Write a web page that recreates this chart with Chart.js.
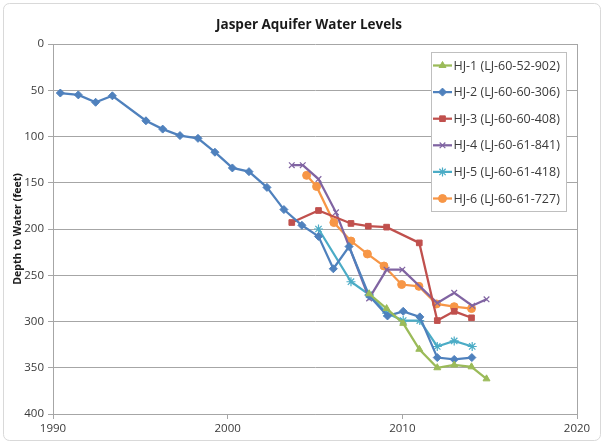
<!DOCTYPE html>
<html>
<head>
<meta charset="utf-8">
<script src="https://cdn.jsdelivr.net/npm/chart.js@4/dist/chart.umd.min.js"></script>
<style>
  html, body { margin: 0; padding: 0; background: #ffffff; }
  #wrap { width: 604px; height: 444px; }
</style>
</head>
<body>
<div id="wrap"><canvas id="c" width="604" height="444"></canvas></div>
<script>
// Jasper Aquifer monitoring wells: measurement date (decimal year) and depth to water (feet)
const chartTitle = 'Jasper Aquifer Water Levels';
const yAxisTitle = 'Depth to Water (feet)';
const xTickValues = [1990, 2000, 2010, 2020];
const yTickValues = [0, 50, 100, 150, 200, 250, 300, 350, 400];

const seriesNames = [
  'HJ-1 (LJ-60-52-902)',
  'HJ-2 (LJ-60-60-306)',
  'HJ-3 (LJ-60-60-408)',
  'HJ-4 (LJ-60-61-841)',
  'HJ-5 (LJ-60-61-418)',
  'HJ-6 (LJ-60-61-727)'
];

const hj1Years = [2008.1, 2009.1, 2010.05, 2010.97, 2012.0, 2012.97, 2013.96, 2014.82];
const hj1Depth = [270, 286, 302, 330, 350, 347, 349, 362];

const hj2Years = [1990.42, 1991.45, 1992.44, 1993.4, 1995.32, 1996.28, 1997.27, 1998.3, 1999.27,
                  2000.27, 2001.22, 2002.25, 2003.22, 2004.25, 2005.2, 2006.05, 2006.95, 2008.1,
                  2009.15, 2010.05, 2011.0, 2012.0, 2012.97, 2013.98];
const hj2Depth = [53, 55, 63, 56, 83, 92, 99, 102, 117,
                  134, 138, 155, 179, 196, 208, 243, 219, 272,
                  294, 289, 295, 339, 341, 339];

const hj3Years = [2003.67, 2005.2, 2007.06, 2008.05, 2009.1, 2010.97, 2012.0, 2012.97, 2013.96];
const hj3Depth = [193, 180, 194, 197, 198, 215, 299, 289, 296];

const hj4Years = [2003.67, 2004.3, 2005.2, 2006.2, 2008.1, 2009.1, 2010.0, 2012.0, 2012.97, 2014.0, 2014.82];
const hj4Depth = [131, 131, 146, 182, 275, 244, 244, 280, 269, 283, 276];

const hj5Years = [2005.2, 2007.06, 2008.1, 2009.1, 2010.05, 2011.0, 2012.0, 2012.97, 2014.0];
const hj5Depth = [200, 257, 271, 291, 299, 299, 327, 321, 327];

const hj6Years = [2004.52, 2005.09, 2006.08, 2007.06, 2008.0, 2008.95, 2009.96, 2010.95, 2011.96, 2012.97, 2013.96];
const hj6Depth = [142, 154, 193, 213, 227, 240, 260, 262, 281, 284, 286];

const seriesColors = ['#9BBB59', '#4F81BD', '#C0504D', '#8064A2', '#4BACC6', '#F79646'];
const seriesMarkers = ['triangle', 'rectRot', 'rect', 'crossRot', 'star', 'circle'];
const seriesMarkerSize = [4, 4, 4, 4, 4.5, 4];

const yearLists = [hj1Years, hj2Years, hj3Years, hj4Years, hj5Years, hj6Years];
const depthLists = [hj1Depth, hj2Depth, hj3Depth, hj4Depth, hj5Depth, hj6Depth];

const FONT = '"Open Sans", "Liberation Sans", sans-serif';
const GRID = '#a6a6a6';
const TEXT = '#3a3a3a';

const datasets = seriesNames.map((name, i) => ({
  label: name,
  data: yearLists[i].map((yr, k) => ({ x: yr, y: depthLists[i][k] })),
  borderColor: seriesColors[i],
  backgroundColor: seriesColors[i],
  pointBackgroundColor: seriesColors[i],
  pointBorderColor: seriesColors[i],
  pointStyle: seriesMarkers[i],
  pointRadius: seriesMarkerSize[i],
  pointBorderWidth: (seriesMarkers[i] === 'crossRot' || seriesMarkers[i] === 'star') ? 1.2 : 1,
  borderWidth: 2.25,
  tension: 0,
  fill: false,
  showLine: true
}));

// Frame, title, right edge of the plot and the boxed legend
const decorations = {
  id: 'decorations',
  beforeDraw(chart) {
    const ctx = chart.ctx;
    ctx.save();
    ctx.fillStyle = '#ffffff';
    ctx.fillRect(0, 0, chart.width, chart.height);
    ctx.strokeStyle = '#d9d9d9';
    ctx.lineWidth = 1;
    ctx.beginPath();
    if (ctx.roundRect) ctx.roundRect(3.5, 3.5, chart.width - 7, chart.height - 7, 6);
    else ctx.rect(3.5, 3.5, chart.width - 7, chart.height - 7);
    ctx.stroke();
    ctx.restore();
  },
  beforeDatasetsDraw(chart) {
    const ctx = chart.ctx, a = chart.chartArea;
    ctx.save();
    ctx.strokeStyle = GRID;
    ctx.lineWidth = 1;
    ctx.beginPath();
    ctx.moveTo(Math.round(a.right) + 0.5, a.top);
    ctx.lineTo(Math.round(a.right) + 0.5, a.bottom);
    ctx.stroke();
    ctx.restore();
  },
  afterDraw(chart) {
    const ctx = chart.ctx;
    ctx.save();
    // title
    ctx.fillStyle = '#1a1a1a';
    ctx.font = 'bold 13.5px ' + FONT;
    ctx.textAlign = 'center';
    ctx.textBaseline = 'middle';
    ctx.fillText(chartTitle, 309, 25);

    // legend box
    const bx = 431.5, by = 52.5, bw = 135, bh = 159;
    ctx.fillStyle = '#ffffff';
    ctx.fillRect(bx, by, bw, bh);
    ctx.strokeStyle = '#bfbfbf';
    ctx.lineWidth = 1;
    ctx.strokeRect(bx, by, bw, bh);
    ctx.font = '12.5px ' + FONT;
    ctx.textAlign = 'left';
    ctx.textBaseline = 'middle';
    const drawPoint = Chart.helpers && Chart.helpers.drawPoint;
    chart.data.datasets.forEach((ds, i) => {
      const yy = 65.5 + i * 26.6;
      ctx.strokeStyle = ds.borderColor;
      ctx.lineWidth = 2.25;
      ctx.beginPath();
      ctx.moveTo(433, yy);
      ctx.lineTo(452, yy);
      ctx.stroke();
      ctx.fillStyle = ds.backgroundColor;
      ctx.strokeStyle = ds.borderColor;
      ctx.lineWidth = ds.pointBorderWidth;
      if (drawPoint) {
        drawPoint(ctx, { pointStyle: ds.pointStyle, radius: ds.pointRadius, rotation: 0, borderWidth: ds.pointBorderWidth }, 442.5, yy);
      } else {
        ctx.beginPath();
        ctx.arc(442.5, yy, 3.5, 0, Math.PI * 2);
        ctx.fill();
      }
      ctx.fillStyle = TEXT;
      ctx.fillText(ds.label, 453.5, yy + 0.5);
    });
    ctx.restore();
  }
};

new Chart(document.getElementById('c'), {
  type: 'scatter',
  data: { datasets },
  options: {
    responsive: false,
    animation: false,
    devicePixelRatio: 1,
    layout: { padding: { left: 8, top: 44, right: 27, bottom: 0 } },
    plugins: {
      legend: { display: false },
      title: { display: false },
      tooltip: { enabled: false }
    },
    scales: {
      x: {
        type: 'linear',
        min: 1990,
        max: 2020,
        afterBuildTicks(scale) { scale.ticks = xTickValues.map(v => ({ value: v })); },
        afterFit(scale) { scale.height = 30; },
        grid: { drawOnChartArea: false, drawTicks: true, tickLength: 5, color: GRID },
        border: { display: true, color: GRID, width: 1 },
        ticks: { color: TEXT, font: { family: FONT, size: 11.5 }, padding: 3, maxRotation: 0,
                 callback: v => String(v) }
      },
      y: {
        type: 'linear',
        reverse: true,
        min: 0,
        max: 400,
        afterBuildTicks(scale) { scale.ticks = yTickValues.map(v => ({ value: v })); },
        afterFit(scale) { scale.width = 45; },
        grid: { color: GRID, drawTicks: true, tickLength: 5, lineWidth: 1 },
        border: { display: true, color: GRID, width: 1 },
        ticks: { color: TEXT, font: { family: FONT, size: 11.5 }, padding: 4,
                 callback: v => String(v) },
        title: {
          display: true,
          text: yAxisTitle,
          color: '#1a1a1a',
          font: { family: FONT, size: 10.5, weight: 'bold' },
          padding: { top: 4, bottom: 0 }
        }
      }
    }
  },
  plugins: [decorations]
});
</script>
</body>
</html>
